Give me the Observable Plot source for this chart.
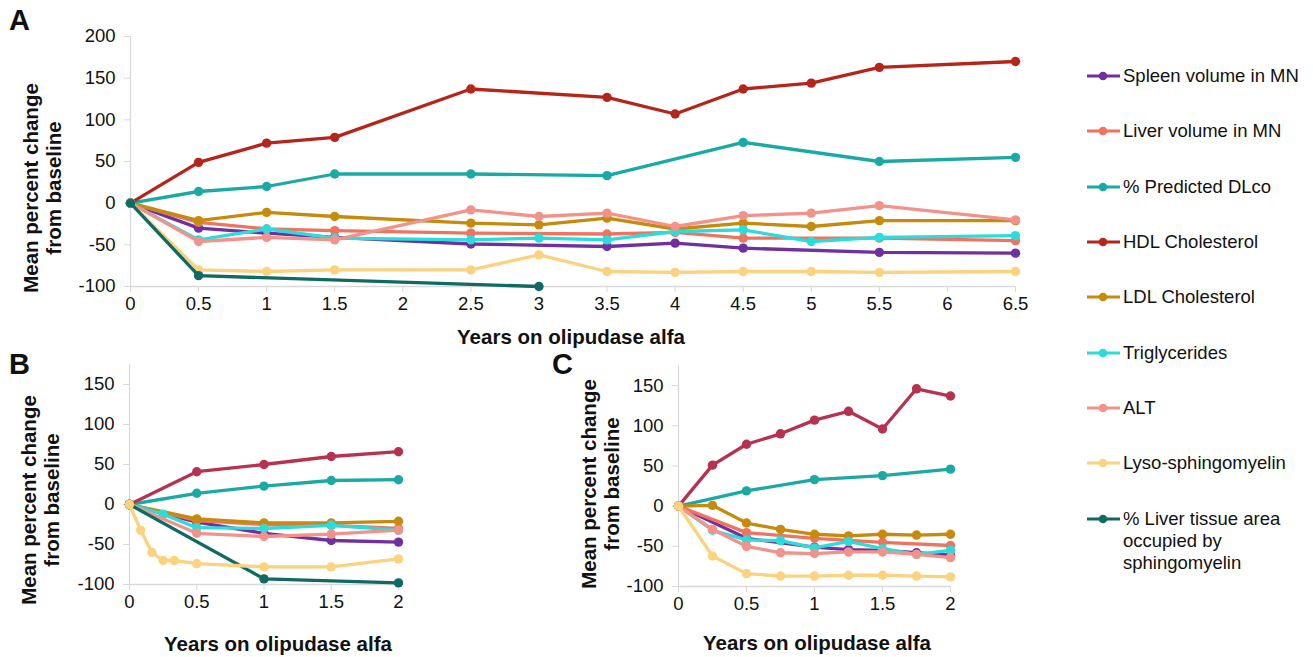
<!DOCTYPE html>
<html>
<head>
<meta charset="utf-8">
<script src="https://cdn.jsdelivr.net/npm/d3@7"></script>
<script src="https://cdn.jsdelivr.net/npm/@observablehq/plot@0.6"></script>
<style>
  html, body { margin: 0; padding: 0; background: #fff; }
  #wrap { position: relative; width: 1313px; height: 657px; background: #fff;
    font-family: 'Liberation Sans', Arial, Helvetica, sans-serif; color: #111; overflow: hidden; }
  .letter { position: absolute; font-weight: bold; font-size: 29px; line-height: 1; }
  .ytitle { position: absolute; font-weight: bold; font-size: 20.5px; line-height: 23px;
    text-align: center; white-space: nowrap; transform: rotate(-90deg); }
  .xtitle { position: absolute; font-weight: bold; font-size: 20.5px; white-space: nowrap;
    transform: translate(-50%, -50%); }
  .legrow { position: absolute; left: 1086px; display: flex; align-items: flex-start; font-size: 18.5px; line-height: 22px; }
  .legrow svg { flex: none; margin-top: 5px; margin-right: 2px; }
</style>
</head>
<body>
<div id="wrap"></div>
<script>
// ---------- Series (legend order) ----------
const seriesNames = [
  "Spleen volume in MN",
  "Liver volume in MN",
  "% Predicted DLco",
  "HDL Cholesterol",
  "LDL Cholesterol",
  "Triglycerides",
  "ALT",
  "Lyso-sphingomyelin",
  "% Liver tissue area\noccupied by\nsphingomyelin"
];
const seriesColors = ["#7030a0", "#f0735f", "#1aaaa6", "#b5251a", "#c68a0c", "#2cdcdb", "#f3928a", "#fbd27e", "#0f6a63"];
const hdlColorBC = "#b8324f";

// ---------- Panel A ----------
const yearsA     = [0, 0.5, 1, 1.5, 2, 2.5, 3, 3.5, 4, 4.5, 5, 5.5, 6, 6.5];
const spleenA    = [0, -30, -36, -41, null, -49, null, -52, -48, -54, null, -59, null, -60];
const liverVolA  = [0, -23, -31, -33, null, -36, null, -37, -35, -42, null, -42, null, -45];
const dlcoA      = [0, 14, 20, 35, null, 35, null, 33, null, 73, null, 50, null, 55];
const hdlA       = [0, 49, 72, 79, null, 137, null, 127, 107, 137, 144, 163, null, 170];
const ldlA       = [0, -21, -11, -16, null, -24, -26, -18, -31, -24, -28, -21, null, -21];
const trigA      = [0, -44, -31, -42, null, -44, -42, -44, -34, -32, -46, -41, null, -39];
const altA       = [0, -46, -41, -44, null, -8, -16, -12, -28, -15, -12, -3, null, -20];
const lysoA      = [0, -80, -82, -80, null, -80, -62, -82, -83, -82, -82, -83, null, -82];
const tissueA    = [0, -87, null, null, null, null, -100, null, null, null, null, null, null, null];

// ---------- Panel B ----------
const yearsB     = [0, 0.083, 0.167, 0.25, 0.333, 0.5, 1, 1.5, 2];
const spleenB    = [0, null, null, null, null, -22, -36, -45, -47];
const liverVolB  = [0, null, null, null, null, -20, -25, -26, -30];
const dlcoB      = [0, null, null, null, null, 14, 23, 30, 31];
const hdlB       = [0, null, null, null, null, 41, 50, 60, 66];
const ldlB       = [0, null, null, null, null, -18, -23, -23, -21];
const trigB      = [0, null, null, -12, null, -29, -30, -26, -32];
const altB       = [0, null, null, null, null, -36, -40, -37, -32];
const lysoB      = [0, -32, -60, -70, -70, -74, -78, -78, -68];
const tissueB    = [0, null, null, null, null, null, -93, null, -98];

// ---------- Panel C ----------
const yearsC     = [0, 0.25, 0.5, 0.75, 1, 1.25, 1.5, 1.75, 2];
const spleenC    = [0, null, -40, null, -51, -54, -55, -58, -61];
const liverVolC  = [0, null, -33, null, -40, null, -45, null, -49];
const dlcoC      = [0, null, 19, null, 33, null, 38, null, 46];
const hdlC       = [0, 51, 77, 90, 107, 118, 96, 146, 137];
const ldlC       = [0, 1, -21, -29, -35, -37, -35, -36, -35];
const trigC      = [0, -30, -42, -43, -52, -44, -53, -60, -55];
const altC       = [0, -29, -50, -58, -59, -57, -57, -60, -64];
const lysoC      = [0, -62, -84, -87, -87, -86, -86, -87, -88];
const tissueC    = [null, null, null, null, null, null, null, null, null];

// ---------- Tick labels ----------
const xTicksA = [0, 0.5, 1, 1.5, 2, 2.5, 3, 3.5, 4, 4.5, 5, 5.5, 6, 6.5];
const yTicksA = [-100, -50, 0, 50, 100, 150, 200];
const xTicksBC = [0, 0.5, 1, 1.5, 2];
const yTicksBC = [-100, -50, 0, 50, 100, 150];

const FONT = "'Liberation Sans', Arial, Helvetica, sans-serif";

function rows(years, vals) {
  return years.map((x, i) => ({x, y: vals[i]})).filter(d => d.y != null);
}

function makePlot({years, series, colors, order, xDomain, yDomain, xTicks, yTicks, width, height, mt, mr, mb, ml}) {
  const marks = [
    Plot.ruleX([xDomain[0]], {stroke: "#d9d9d9", strokeWidth: 1.3}),
    Plot.ruleY([yDomain[0]], {stroke: "#d9d9d9", strokeWidth: 1.3}),
    Plot.axisX({ticks: xTicks, tickSize: 6, tickPadding: 4, stroke: "#d9d9d9", fill: "#111",
      tickFormat: d => String(d), label: null, fontSize: 18.5}),
    Plot.axisY({ticks: yTicks, tickSize: 6, tickPadding: 9, stroke: "#d9d9d9", fill: "#111",
      tickFormat: d => String(d), label: null, fontSize: 18.5})
  ];
  for (const i of order) {
    const r = rows(years, series[i]);
    if (!r.length) continue;
    marks.push(Plot.line(r, {x: "x", y: "y", stroke: colors[i], strokeWidth: 3.3}));
    marks.push(Plot.dot(r, {x: "x", y: "y", r: 4.7, fill: colors[i], stroke: "none"}));
  }
  return Plot.plot({
    width, height, marginTop: mt, marginRight: mr, marginBottom: mb, marginLeft: ml,
    x: {domain: xDomain}, y: {domain: yDomain},
    style: {fontFamily: FONT, fontSize: "18.5px", background: "transparent", color: "#111", overflow: "visible"},
    marks
  });
}

const wrap = document.getElementById("wrap");
function place(node, left, top) {
  node.style.position = "absolute";
  node.style.left = left + "px";
  node.style.top = top + "px";
  wrap.appendChild(node);
}

const colorsA = seriesColors;
const colorsBC = seriesColors.map((c, i) => i === 3 ? hdlColorBC : c);

// Panel A
place(makePlot({
  years: yearsA,
  series: [spleenA, liverVolA, dlcoA, hdlA, ldlA, trigA, altA, lysoA, tissueA],
  colors: colorsA, order: [0, 1, 2, 3, 4, 5, 6, 7, 8],
  xDomain: [0, 6.5], yDomain: [-100, 200], xTicks: xTicksA, yTicks: yTicksA,
  width: 1060, height: 350, mt: 36, mr: 45, mb: 64, ml: 130
}), 0, 0);

// Panel B
place(makePlot({
  years: yearsB,
  series: [spleenB, liverVolB, dlcoB, hdlB, ldlB, trigB, altB, lysoB, tissueB],
  colors: colorsBC, order: [0, 1, 2, 3, 4, 5, 6, 8, 7],
  xDomain: [0, 2], yDomain: [-100, 175], xTicks: xTicksBC, yTicks: yTicksBC,
  width: 440, height: 280, mt: 24, mr: 42, mb: 36, ml: 129
}), 0, 340);

// Panel C
place(makePlot({
  years: yearsC,
  series: [spleenC, liverVolC, dlcoC, hdlC, ldlC, trigC, altC, lysoC, tissueC],
  colors: colorsBC, order: [0, 1, 2, 3, 4, 5, 6, 7, 8],
  xDomain: [0, 2], yDomain: [-100, 175], xTicks: xTicksBC, yTicks: yTicksBC,
  width: 450, height: 280, mt: 25, mr: 40, mb: 34, ml: 138
}), 540, 340);

// Panel letters
function addDiv(cls, text, css) {
  const d = document.createElement("div");
  d.className = cls;
  d.textContent = text;
  Object.assign(d.style, css);
  wrap.appendChild(d);
  return d;
}
addDiv("letter", "A", {left: "9px", top: "6px"});
addDiv("letter", "B", {left: "9px", top: "350px"});
addDiv("letter", "C", {left: "552px", top: "350px"});

// Axis titles
function yTitle(cx, cy) {
  const w = 240, h = 46;
  const d = document.createElement("div");
  d.className = "ytitle";
  d.innerHTML = "Mean percent change<br>from baseline";
  Object.assign(d.style, {width: w + "px", height: h + "px", left: (cx - w / 2) + "px", top: (cy - h / 2) + "px"});
  wrap.appendChild(d);
}
yTitle(42, 188);
yTitle(40, 500);
yTitle(600, 484);

addDiv("xtitle", "Years on olipudase alfa", {left: "571px", top: "337px"});
addDiv("xtitle", "Years on olipudase alfa", {left: "278px", top: "644px"});
addDiv("xtitle", "Years on olipudase alfa", {left: "817px", top: "643px"});

// Legend
const legendCenters = [76, 131, 186.5, 241.5, 297, 352.5, 407.5, 463, 518.5];
seriesNames.forEach((name, i) => {
  const row = document.createElement("div");
  row.className = "legrow";
  row.style.top = (legendCenters[i] - 11) + "px";
  const svg = d3.create("svg").attr("width", 35).attr("height", 12);
  svg.append("line").attr("x1", 1).attr("x2", 34).attr("y1", 6).attr("y2", 6)
    .attr("stroke", seriesColors[i]).attr("stroke-width", 3);
  svg.append("circle").attr("cx", 17).attr("cy", 6).attr("r", 4.3).attr("fill", seriesColors[i]);
  row.appendChild(svg.node());
  const t = document.createElement("div");
  t.innerHTML = name.split("\n").join("<br>");
  row.appendChild(t);
  wrap.appendChild(row);
});
</script>
</body>
</html>
